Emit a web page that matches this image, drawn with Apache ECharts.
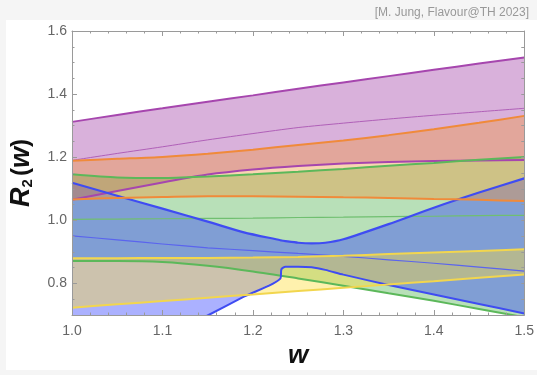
<!DOCTYPE html>
<html><head><meta charset="utf-8">
<script src="https://cdn.jsdelivr.net/npm/echarts@6/dist/echarts.min.js"></script>
<style>html,body{margin:0;padding:0;background:#f5f5f5}#c{width:537px;height:375px}</style>
</head><body><div id="c"></div>
<script>
// ---- data ----
const W = [1.00,1.05,1.10,1.15,1.20,1.25,1.30,1.35,1.40,1.45,1.50];

const purpleUpper   = [1.312,1.334,1.355,1.376,1.396,1.417,1.437,1.457,1.477,1.497,1.516];
const purpleCentral = [1.190,1.212,1.233,1.255,1.275,1.294,1.308,1.321,1.333,1.344,1.355];
const purpleLower   = [1.065,1.093,1.120,1.145,1.161,1.172,1.180,1.185,1.188,1.190,1.191];

const greenUpper    = [1.146,1.136,1.134,1.139,1.146,1.154,1.163,1.173,1.182,1.192,1.201];
const greenCentral  = [1.003,1.004,1.005,1.006,1.007,1.009,1.010,1.012,1.013,1.015,1.016];
const greenLower    = [0.871,0.871,0.868,0.856,0.838,0.816,0.793,0.769,0.745,0.719,0.693];

const W_BLUE        = [1.00,1.05,1.10,1.151,1.19,1.2305,1.2315,1.236,1.25,1.265,1.28,1.30,1.35,1.40,1.45,1.50];
const blueUpper     = [1.119,1.078,1.037,0.995,0.962,0.937,0.936,0.934,0.929,0.927,0.929,0.940,0.988,1.040,1.088,1.133];
const blueLower     = [0.480,0.553,0.626,0.700,0.758,0.816,0.845,0.853,0.853,0.851,0.843,0.828,0.795,0.765,0.735,0.705];
const blueCentral   = [0.951,0.938,0.925,0.913,0.904,0.895,0.886,0.875,0.864,0.852,0.839];

const orangeUpper   = [1.189,1.195,1.201,1.211,1.224,1.239,1.253,1.270,1.289,1.309,1.331];
const orangeLower   = [1.066,1.071,1.074,1.076,1.076,1.075,1.073,1.071,1.068,1.065,1.061];

const yellowUpper   = [0.880,0.880,0.881,0.881,0.882,0.884,0.888,0.893,0.898,0.903,0.908];
const yellowLower   = [0.723,0.734,0.744,0.755,0.765,0.776,0.786,0.797,0.807,0.818,0.828];

const xTicks = [1.0,1.1,1.2,1.3,1.4,1.5];
const yTicks = [0.8,1.0,1.2,1.4,1.6];

// ---- helpers ----
function pairs(xs, ys){ return xs.map((x,i)=>[x, ys[i]]); }
function band(xs, lo, hi, fill){
  return {type:'custom', coordinateSystem:'cartesian2d', clip:true, silent:true, animation:false,
    data:[[xs[0], lo[0]]],
    renderItem:function(params, api){
      const pts = [];
      for (let i=0;i<xs.length;i++) pts.push(api.coord([xs[i], hi[i]]));
      for (let i=xs.length-1;i>=0;i--) pts.push(api.coord([xs[i], lo[i]]));
      return {type:'polygon', shape:{points:pts}, style:{fill:fill, stroke:null}};
    }};
}
function line(xs, ys, color, width){
  return {type:'line', data:pairs(xs,ys), symbol:'none', smooth:0.25,
    lineStyle:{color:color, width:width}, silent:true, animation:false};
}

const P = '#a646ae', G = '#5cb85a', B = '#3f4cf2', O = '#f08a3a', Y = '#f2d64e';
const FONT = 'Liberation Sans';

const series = [
  band(W, purpleLower, purpleUpper, 'rgba(160,60,165,0.4)'),
  line(W, purpleLower, P, 2), line(W, purpleUpper, P, 2), line(W, purpleCentral, '#b060b8', 1),
  band(W, greenLower, greenUpper, 'rgba(78,178,78,0.4)'),
  line(W, greenLower, G, 2), line(W, greenUpper, G, 2), line(W, greenCentral, '#70bf70', 1.2),
  band(W_BLUE, blueLower, blueUpper, 'rgba(45,60,255,0.4)'),
  line(W_BLUE, blueLower, B, 2), line(W_BLUE, blueUpper, B, 2.2), line(W, blueCentral, '#5a64ee', 1.2),
  band(W, orangeLower, orangeUpper, 'rgba(240,150,60,0.4)'),
  line(W, orangeLower, O, 2), line(W, orangeUpper, O, 2),
  band(W, yellowLower, yellowUpper, 'rgba(255,220,50,0.4)'),
  line(W, yellowLower, Y, 2), line(W, yellowUpper, Y, 2)
];

const axisLine = {show:true, lineStyle:{color:'#9a9a9a', width:1}};
const lab = {color:'#666', fontSize:14, fontFamily:FONT};

const option = {
  backgroundColor:'#f5f5f5',
  animation:false,
  title:{text:'[M. Jung, Flavour@TH 2023]', right:3, top:2,
    textStyle:{fontSize:12, fontWeight:'normal', color:'#999', fontFamily:FONT}},
  graphic:[{type:'rect', shape:{x:6,y:20,width:531,height:350}, style:{fill:'#fff'}, z:-10, silent:true}],
  grid:{left:71, right:9, top:31, bottom:60, containLabel:false},
  xAxis:[
    {type:'value', min:1, max:1.5, interval:0.1, position:'bottom', z:10,
     axisLine:axisLine, splitLine:{show:false},
     axisTick:{inside:true, length:5, lineStyle:{color:'#9a9a9a'}},
     minorTick:{show:true, splitNumber:5, length:2.5, lineStyle:{color:'#9a9a9a'}},
     axisLabel:Object.assign({margin:9, formatter:v=>v.toFixed(1), customValues:xTicks}, lab),
     name:'w', nameLocation:'middle', nameGap:28,
     nameTextStyle:{fontSize:26, fontWeight:'bold', fontStyle:'italic', color:'#111', fontFamily:FONT}},
    {type:'value', min:1, max:1.5, interval:0.1, position:'top', z:10,
     axisLine:axisLine, splitLine:{show:false},
     axisTick:{inside:true, length:5, lineStyle:{color:'#9a9a9a'}},
     minorTick:{show:true, splitNumber:5, length:2.5, lineStyle:{color:'#9a9a9a'}},
     axisLabel:{show:false}}
  ],
  yAxis:[
    {type:'value', min:0.7, max:1.6, position:'left', z:10,
     axisLine:axisLine, splitLine:{show:false},
     axisTick:{inside:true, length:5, customValues:yTicks, lineStyle:{color:'#9a9a9a'}},
     axisLabel:Object.assign({margin:5, formatter:v=>v.toFixed(1), customValues:yTicks}, lab),
     name:'{r|R}{s|2}{p|(}{r|w}{p|)}', nameLocation:'middle', nameRotate:90, nameGap:37,
     nameTextStyle:{rich:{
       r:{fontSize:27, fontWeight:'bold', fontStyle:'italic', color:'#111', fontFamily:FONT},
       s:{fontSize:15, fontWeight:'bold', color:'#111', fontFamily:FONT, verticalAlign:'bottom', padding:[0,3,0,0]},
       p:{fontSize:24, fontWeight:'bold', color:'#111', fontFamily:FONT}}}},
    {type:'value', min:0.7, max:1.6, interval:0.05, position:'left', z:10,
     axisLine:{show:false}, splitLine:{show:false},
     axisTick:{inside:true, length:2.5, lineStyle:{color:'#9a9a9a'}}, axisLabel:{show:false}},
    {type:'value', min:0.7, max:1.6, interval:0.05, position:'right', z:10,
     axisLine:axisLine, splitLine:{show:false},
     axisTick:{inside:true, length:3, lineStyle:{color:'#9a9a9a'}}, axisLabel:{show:false}}
  ],
  series:series
};
const chart = echarts.init(document.getElementById('c'), null, {renderer:'canvas'});
chart.setOption(option);
</script></body></html>
